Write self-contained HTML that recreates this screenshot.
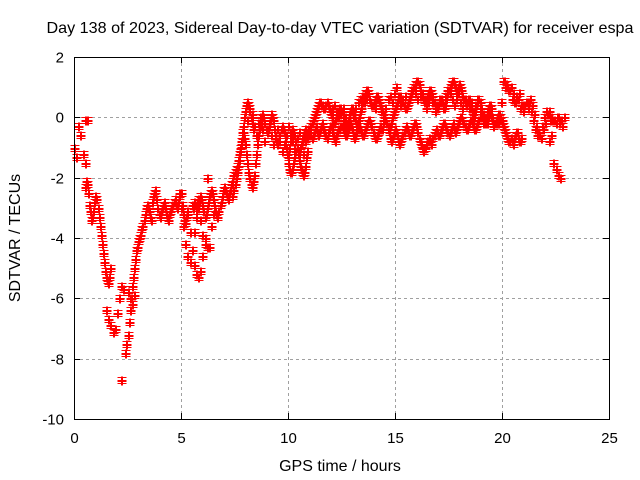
<!DOCTYPE html>
<html><head><meta charset="utf-8"><style>
html,body{margin:0;padding:0;background:#fff;}
svg{display:block;font-family:"Liberation Sans",sans-serif;}
</style></head><body>
<svg id="chart" width="640" height="480" viewBox="0 0 640 480">
<text x="340" y="33" font-size="16" text-anchor="middle" textLength="587" lengthAdjust="spacingAndGlyphs">Day 138 of 2023, Sidereal Day-to-day VTEC variation (SDTVAR) for receiver espa</text>
<text x="340" y="471" font-size="16" text-anchor="middle">GPS time / hours</text>
<text transform="translate(20,238) rotate(-90)" font-size="16" text-anchor="middle">SDTVAR / TECUs</text>
<g id="grid"></g>
<g id="marks"></g>
<g id="axes"></g>
</svg>
<script>
const xTicks = [0, 5, 10, 15, 20, 25];
const yTicks = [2, 0, -2, -4, -6, -8, -10];
const trackStarts = [0.0, 0.5, 0.5, 1.5, 2.2, 2.4, 2.5, 4.9, 5.3, 5.5, 6.2, 7.4, 8.1, 10.6, 10.0, 22.2, 0.55, 2.45, 5.55, 7.45, 10.65, 10.05, 12.05];
const trackStep = 0.1;
const t0 = [-1.0,-1.3,-0.3,-0.6,-1.2,-1.5];
const t1 = [-0.1,-0.1];
const t2 = [-2.3,-2.2,-2.9,-3.4,-3.1,-2.6,-3.0,-3.6,-4.2,-4.8,-5.3,-5.5,-5.0];
const t3 = [-6.4,-6.7,-6.9,-7.1,-7.0,-6.5,-6.0,-5.6,-5.7];
const t4 = [-8.7];
const t5 = [-7.8,-7.2,-6.4,-5.6,-5.0,-4.4,-4.1,-3.9,-3.6,-3.2,-2.9,-3.1,-3.4,-2.6,-2.4,-3.0,-3.3,-3.0,-2.8,-3.2,-3.4,-3.1,-2.9,-2.7,-3.0,-2.6,-2.5,-3.2,-3.5,-3.1];
const t6 = [-5.8,-6.0,-6.2,-5.9];
const t7 = [-2.5,-3.0,-3.6,-4.2,-4.6,-4.8,-4.4,-3.8,-3.3,-3.0,-3.4,-3.9,-4.2,-4.3,-4.3,-3.6,-3.2];
const t8 = [-3.2,-3.8,-4.4,-4.9,-5.2,-5.3,-5.1,-4.6,-4.0];
const t9 = [-2.9,-2.8,-3.0,-2.7,-2.6,-2.9,-3.3,-3.0,-2.6,-2.4,-2.7,-3.1,-3.3,-2.9,-2.6,-2.3,-2.5,-2.7,-2.4,-2.1,-1.8,-1.6,-1.2,-0.8,-0.3,0.2,0.5,0.3,-0.2];
const t10 = [-2.0];
const t11 = [-2.6,-2.2,-1.8,-1.4,-0.9,-0.5,-0.9,-1.5,-2.0,-2.3,-1.9,-1.2,-0.6,-0.3,0.1,-0.2,-0.5,-0.3,0.1,-0.1,-0.6,-0.9,-0.6,-0.3,-0.5,-1.0,-1.3,-0.8,-0.4,-0.6,-1.0,-1.4,-1.7,-1.9,-1.6,-1.1];
const t12 = [-0.1,0.2,0.1,-0.3,-0.6,-0.2,0.0,-0.4,-0.8,-0.5,-0.2,-0.6,-0.9,-0.7,-0.4,-0.8,-1.1,-0.9,-0.6,-0.3,-0.5,-0.8,-1.0,-0.7,-0.5,-0.9,-1.2];
const t13 = [-0.9,-0.6,-0.4,-0.7,-0.5,-0.2,0.0,0.2,0.4,0.5,0.4,0.3,0.5,0.3,0.1,-0.2,-0.1,0.1,0.3,0.2,-0.1,-0.3,-0.1,0.2,0.3,0.1,-0.2,0.0,0.3,0.6,0.8,0.9,0.6,0.4,0.5,0.7,0.6,0.4,0.2,0.0,-0.2,-0.4,-0.2,0.1,0.3,0.5,0.7,0.6,0.4,0.3,0.5,0.7,0.9,1.0,1.2,1.1,0.8,0.6,0.5,0.7,0.9,0.8,0.5,0.3,0.4,0.6,0.5,0.3,0.6,0.9,1.1,1.2,1.0,0.8,1.1,0.9,0.6,0.4,0.6,0.5,0.2,0.0,0.4,0.6,0.3,-0.2,-0.1,0.2,0.4,0.3,-0.3,-0.1,-0.2,0.0,-0.1,1.2,1.1,0.9,1.0,0.8,0.5,0.6,0.8,0.4,0.2,0.5,0.3,0.6,0.4,0.1,-0.3,-0.5,-0.7,-0.4,-0.2,0.1,0.2,0.0,-0.1,-0.2,0.0,-0.1,-0.3,0.0];
const t14 = [-1.5,-1.8,-1.7,-1.3,-1.0,-1.2,-0.9,-0.6,-0.8,-0.5,-0.4,-0.7,-0.5,-0.3,-0.6,-0.4,-0.2,-0.5,-0.7,-0.4,-0.3,-0.6,-0.8,-0.5,-0.4,-0.3,-0.5,-0.6,-0.4,-0.2,-0.4,-0.7,-0.5,-0.3,-0.5,-0.6,-0.4,-0.2,-0.1,-0.3,-0.6,-0.7,-0.5,-0.3,-0.4,-0.1,-0.2,-0.5,-0.8,-0.6,-0.4,-0.6,-0.9,-0.7,-0.5,-0.3,-0.5,-0.6,-0.4,-0.2,-0.3,-0.7,-0.9,-1.1,-1.0,-0.8,-0.7,-0.9,-0.6,-0.4,-0.6,-0.5,-0.3,-0.2,-0.4,-0.6,-0.4,-0.2,-0.5,-0.3,-0.1,0.0,-0.2,-0.4,-0.3,-0.1,-0.2,-0.4,-0.3,-0.1,0.0,0.1,-0.1,-0.2,0.1,0.0,-0.2,-0.1,0.1,0.0,-0.2,-0.4,-0.6,-0.8,-0.7,-0.9,-0.6,-0.5,-0.8,-0.7];
const t15 = [-0.8,-0.6,-1.5,-1.7,-1.9,-2.0];
const t16 = [-2.1,-2.5,-3.1,-3.3,-2.8,-2.7,-3.3,-3.9,-4.5,-5.1,-5.4,-5.3];
const t17 = [-7.5,-6.8,-6.0,-5.3,-4.7,-4.3,-4.0,-3.7,-3.4,-3.0,-3.0,-3.3,-2.8,-2.5,-2.7,-3.2,-3.1,-2.9,-3.0,-3.3,-3.2,-3.0,-2.8,-2.9,-2.8,-2.5,-2.9,-3.4,-3.3];
const t18 = [-3.0,-2.9,-2.8,-2.8,-2.7,-3.1,-3.2,-2.8,-2.5,-2.5,-2.9,-3.2,-3.1,-2.8,-2.4,-2.4,-2.6,-2.5,-2.2,-1.9,-1.7,-1.4,-1.0,-0.5,0.0,0.4,0.4,0.0,-0.4];
const t19 = [-2.4,-2.0,-1.6,-1.1,-0.7,-0.7,-1.2,-1.8,-2.2,-2.1,-1.5,-0.9,-0.4,-0.1,0.0,-0.4,-0.4,-0.1,0.0,-0.4,-0.8,-0.8,-0.4,-0.4,-0.8,-1.2,-1.0,-0.6,-0.5,-0.8,-1.2,-1.6,-1.8,-1.8,-1.3];
const t20 = [-0.8,-0.5,-0.6,-0.6,-0.3,-0.1,0.1,0.3,0.5,0.4,0.3,0.4,0.4,0.2,0.0,-0.2,0.0,0.2,0.3,0.0,-0.2,-0.2,0.0,0.3,0.2,-0.1,-0.1,0.2,0.5,0.7,0.9,0.8,0.5,0.4,0.6,0.7,0.5,0.3,0.1,-0.1,-0.3,-0.3,0.0,0.2,0.4,0.6,0.7,0.5,0.3,0.4,0.6,0.8,1.0,1.1,1.2,0.9,0.7,0.5,0.6,0.8,0.9,0.7,0.4,0.3,0.5,0.6,0.4,0.4,0.8,1.0,1.2,1.1,0.9,1.0,1.0,0.7,0.5,0.5,0.6,0.3,0.1,0.2,0.5,0.5,0.0,-0.2,0.0,0.3,0.4,0.0,-0.2,-0.2,-0.1,0.5,1.2,1.0,1.0,0.9,0.6,0.5,0.7,0.6,0.3,0.4,0.4,0.5,0.5,0.2,-0.1,-0.4,-0.6,-0.6,-0.3,0.0,0.2,0.1,-0.1,-0.1,-0.1,0.0,-0.2,-0.1];
const t21 = [-1.7,-1.8,-1.5,-1.1,-1.1,-1.0,-0.7,-0.7,-0.6,-0.4,-0.6,-0.6,-0.4,-0.5,-0.5,-0.3,-0.4,-0.6,-0.5,-0.3,-0.5,-0.7,-0.6,-0.4,-0.3,-0.4,-0.6,-0.5,-0.3,-0.3,-0.6,-0.6,-0.4,-0.4,-0.6,-0.5,-0.3,-0.1,-0.2,-0.5,-0.7,-0.6,-0.4,-0.4,-0.2,-0.1,-0.4,-0.7,-0.7,-0.5,-0.5,-0.8,-0.8,-0.6,-0.4,-0.4,-0.6,-0.5,-0.3,-0.2,-0.5,-0.8,-1.0,-1.0,-0.9,-0.8,-0.8,-0.7,-0.5,-0.5,-0.6,-0.4,-0.2,-0.3,-0.5,-0.5,-0.3,-0.4,-0.4,-0.2,0.0,-0.1,-0.3,-0.4,-0.2,-0.1,-0.3,-0.4,-0.2,0.0,0.0,0.0,-0.2,0.0,0.1,-0.1,-0.2,0.0,0.1,-0.1,-0.3,-0.5,-0.7,-0.8,-0.8,-0.7,-0.5,-0.7,-0.8];
const t22 = [0.3,0.4,0.2,0.0,0.1,0.3,0.0,-0.2,0.1,0.2,0.0,0.3,0.5,0.6,0.7,0.5,0.6,0.8,0.5,0.4,0.3,0.6,0.5,0.2,-0.1,0.3,0.6,0.7,0.5,0.8,1.0,0.7,0.4,0.6,0.7,0.4,0.6,0.9,1.0,0.8,0.6,0.7,0.8,0.6,0.3,0.5,0.7,0.5,0.2,0.4,0.6,0.5,0.3,0.7,0.9,0.8,0.6,0.4,0.6,0.8,0.5,0.3,0.6,0.5,0.3,0.5,0.2,0.4,0.6,0.3];
const trackValues = [t0,t1,t2,t3,t4,t5,t6,t7,t8,t9,t10,t11,t12,t13,t14,t15,t16,t17,t18,t19,t20,t21,t22];

const L=74, R=609, T=57, B=419;
const xMin=0, xMax=25, yMin=-10, yMax=2;
function xs(v){return L+(v-xMin)/(xMax-xMin)*(R-L);}
function ys(v){return B-(v-yMin)/(yMax-yMin)*(B-T);}
const NS='http://www.w3.org/2000/svg';
function mk(tag,attrs,parent){const e=document.createElementNS(NS,tag);for(const k in attrs)e.setAttribute(k,attrs[k]);parent.appendChild(e);return e;}
const grid=document.getElementById('grid'), axes=document.getElementById('axes'), marks=document.getElementById('marks');

xTicks.forEach(v=>{
  const x=Math.round(xs(v))+0.5;
  if(v>xMin&&v<xMax){const g=mk('line',{x1:x,x2:x,y1:T,y2:B,stroke:'#a0a0a0','stroke-dasharray':'3,3'},grid);
  
  }
  const t1e=mk('line',{x1:x,x2:x,y1:B,y2:B-6,stroke:'#000'},axes);
  
  
  const t2e=mk('line',{x1:x,x2:x,y1:T,y2:T+6,stroke:'#000'},axes);
  
  
  const lb=mk('text',{x:x,y:B+24,'font-size':15,'text-anchor':'middle'},axes);
  lb.textContent=v;
  
  
});
yTicks.forEach(v=>{
  const y=Math.round(ys(v))+0.5;
  if(v>yMin&&v<yMax){const g=mk('line',{x1:L,x2:R,y1:y,y2:y,stroke:'#a0a0a0','stroke-dasharray':'3,3'},grid);
  
  }
  const a=mk('line',{x1:L,x2:L+6,y1:y,y2:y,stroke:'#000'},axes);
  
  
  const b=mk('line',{x1:R,x2:R-6,y1:y,y2:y,stroke:'#000'},axes);
  
  
  const lb=mk('text',{x:L-10,y:y+5,'font-size':15,'text-anchor':'end'},axes);
  lb.textContent=v;
  
  
});
const frame=mk('rect',{x:L+0.5,y:T+0.5,width:R-L,height:B-T,fill:'none',stroke:'#000'},axes);



let d='';
trackValues.forEach((vals,i)=>{
  vals.forEach((v,j)=>{
    const t=trackStarts[i]+j*trackStep;
    const x=Math.round(xs(t))+0.5, y=Math.round(ys(v))+0.5;
    d+='M'+(x-4)+' '+y+'h9M'+x+' '+(y-4)+'v9';
    d+='M'+(x-4)+' '+(y+1)+'h9M'+(x+1)+' '+(y-4)+'v9';
    d+='M'+(x-4)+' '+(y+3)+'h9M'+(x-4)+' '+(y-3)+'h9';
  });
});
const p=mk('path',{d:d,stroke:'#ff0000','stroke-width':1,fill:'none'},marks);


</script>
</body></html>
